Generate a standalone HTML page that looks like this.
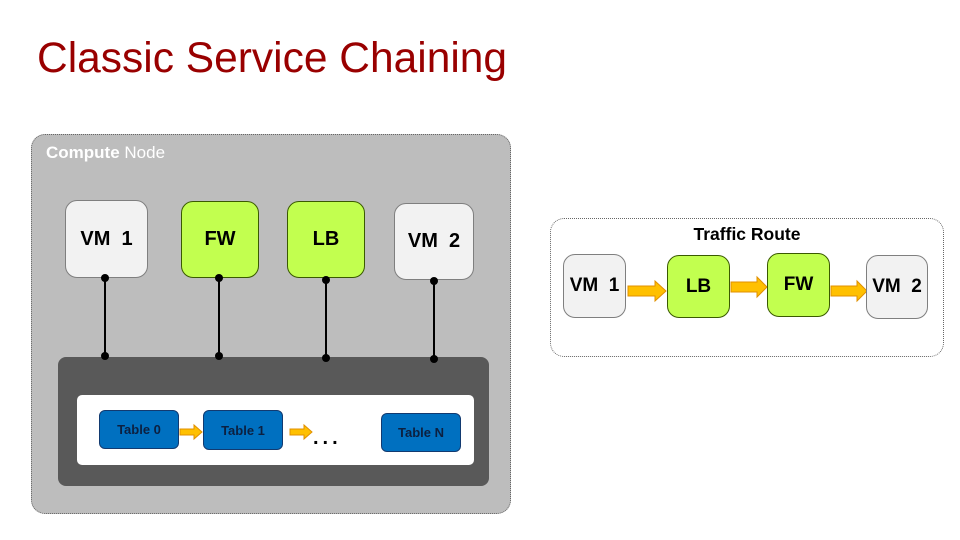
<!DOCTYPE html>
<html><head><style>
body{margin:0;width:960px;height:540px;background:#fff;position:relative;overflow:hidden;font-family:"Liberation Sans",Arial,sans-serif}
.a{position:absolute;box-sizing:border-box}
.vm{background:#f2f2f2;border:1px solid #7f7f7f;border-radius:12px;display:flex;align-items:center;justify-content:center;font-weight:bold;font-size:20px;color:#000}
.g{background:#c2ff4f;border:1px solid #3a5a00}
.tb{background:#0070c0;border:1.5px solid #123a70;border-radius:6px;color:#0c2040;font-size:13px;font-weight:bold;display:flex;align-items:center;justify-content:center}
.ln{position:absolute;width:2px;background:#000}
.dot{position:absolute;width:8px;height:8px;border-radius:50%;background:#000}
</style></head><body>
<div class="a" style="left:37px;top:35px;font-size:42.5px;color:#990000;white-space:nowrap">Classic Service Chaining</div>

<div class="a" style="left:31px;top:134px;width:480px;height:380px;background:#bdbdbd;border:1.5px dotted #666;border-radius:14px"></div>
<div class="a" style="left:46px;top:143px;font-size:17px;color:#fff"><b>Compute</b> Node</div>

<div class="a vm" style="left:65px;top:200px;width:83px;height:78px">VM&nbsp;&nbsp;1</div>
<div class="a vm g" style="left:181px;top:201px;width:78px;height:77px">FW</div>
<div class="a vm g" style="left:287px;top:201px;width:78px;height:77px">LB</div>
<div class="a vm" style="left:394px;top:203px;width:80px;height:77px">VM&nbsp;&nbsp;2</div>

<div class="a" style="left:58px;top:357px;width:431px;height:129px;background:#595959;border-radius:8px"></div>
<div class="a" style="left:77px;top:395px;width:397px;height:70px;background:#fff;border-radius:5px"></div>

<div class="ln" style="left:104px;top:278px;height:78px"></div>
<div class="ln" style="left:218px;top:278px;height:78px"></div>
<div class="ln" style="left:325px;top:280px;height:78px"></div>
<div class="ln" style="left:433px;top:281px;height:77px"></div>
<div class="dot" style="left:101px;top:274px"></div><div class="dot" style="left:101px;top:352px"></div>
<div class="dot" style="left:215px;top:274px"></div><div class="dot" style="left:215px;top:352px"></div>
<div class="dot" style="left:322px;top:276px"></div><div class="dot" style="left:322px;top:354px"></div>
<div class="dot" style="left:430px;top:277px"></div><div class="dot" style="left:430px;top:355px"></div>

<div class="a tb" style="left:99px;top:410px;width:80px;height:39px">Table 0</div>
<div class="a tb" style="left:203px;top:410px;width:80px;height:40px">Table 1</div>
<div class="a tb" style="left:381px;top:413px;width:80px;height:39px">Table N</div>
<svg class="a" style="left:0;top:0" width="960" height="540">
<defs><polygon id="ar" points="0,-3 14,-3 14,-7 22,0 14,7 14,3 0,3" fill="#ffc000" stroke="#e09000" stroke-width="1"/></defs>
<use href="#ar" x="180" y="432"/>
<use href="#ar" x="290" y="432"/>
<text x="313" y="444" font-size="20" font-weight="bold" font-family="Liberation Sans" letter-spacing="4">...</text>
<polygon points="628,286 655,286 655,281 666,291 655,301 655,296 628,296" fill="#ffc000" stroke="#e09000"/>
<polygon points="731,282 757,282 757,277 767,287 757,297 757,292 731,292" fill="#ffc000" stroke="#e09000"/>
<polygon points="831,286 857,286 857,281 867,291 857,301 857,296 831,296" fill="#ffc000" stroke="#e09000"/>
</svg>

<div class="a" style="left:550px;top:218px;width:394px;height:139px;border:1px dotted #666;border-radius:14px"></div>
<div class="a" style="left:550px;top:224px;width:394px;text-align:center;font-size:17.5px;font-weight:bold">Traffic Route</div>
<div class="a vm" style="left:563px;top:254px;width:63px;height:64px;font-size:19px">VM&nbsp;&nbsp;1</div>
<div class="a vm g" style="left:667px;top:255px;width:63px;height:63px;font-size:19px">LB</div>
<div class="a vm g" style="left:767px;top:253px;width:63px;height:64px;font-size:19px">FW</div>
<div class="a vm" style="left:866px;top:255px;width:62px;height:64px;font-size:19px">VM&nbsp;&nbsp;2</div>
</body></html>
